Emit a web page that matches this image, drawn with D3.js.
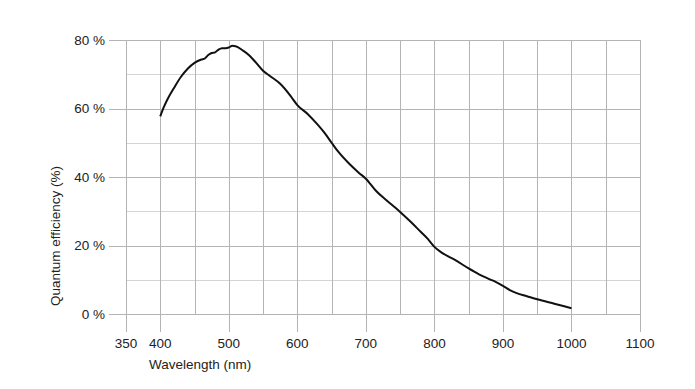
<!DOCTYPE html>
<html>
<head>
<meta charset="utf-8">
<script src="https://cdn.jsdelivr.net/npm/d3@7"></script>
<style>
  html, body { margin: 0; padding: 0; background: #fff; }
  svg { display: block; }
  text { font-family: "Liberation Sans", Arial, sans-serif; fill: #222; }
</style>
</head>
<body>
<svg id="chart" width="695" height="389"></svg>
<script>
// Data
const wavelength = [400,405,410,420,430,440,450,460,465,470,475,480,485,490,495,500,505,510,520,530,540,550,560,575,590,600,615,630,640,650,660,675,690,700,715,730,750,765,780,790,800,810,830,850,865,880,890,900,910,920,935,950,975,1000];
const efficiency = [57.7,60.3,62.5,66.0,69.2,71.6,73.3,74.3,74.6,75.6,76.2,76.4,77.2,77.6,77.6,77.8,78.3,78.2,77.0,75.5,73.3,71.0,69.5,67.2,63.7,61.0,58.4,55.2,52.8,50.0,47.3,44.0,41.2,39.5,35.9,33.2,29.8,27.0,24.0,22.0,19.6,18.0,15.8,13.3,11.6,10.2,9.3,8.2,7.0,6.1,5.2,4.3,3.0,1.7];
const xTickLabels = [350,400,500,600,700,800,900,1000,1100];
const xGrid = [350,400,450,500,550,600,650,700,750,800,850,900,950,1000,1050,1100];
const yTickLabels = [0,20,40,60,80];
const yGrid = [0,10,20,30,40,50,60,70,80];
const xTitle = "Wavelength (nm)";
const yTitle = "Quantum efficiency (%)";

const svg = d3.select("#chart");
const L = 126, R = 640, T = 40, B = 314;
const x = d3.scaleLinear().domain([350, 1100]).range([L, R]);
const y = d3.scaleLinear().domain([0, 80]).range([B, T]);

const g = svg.append("g");

// horizontal gridlines
g.selectAll("line.hg").data(yGrid).enter().append("line")
  .attr("x1", d => yTickLabels.includes(d) ? L - 17 : L)
  .attr("x2", R)
  .attr("y1", d => Math.round(y(d)) + 0.5)
  .attr("y2", d => Math.round(y(d)) + 0.5)
  .attr("stroke", d => yTickLabels.includes(d) ? "#b4b4b4" : "#d4d4d4")
  .attr("stroke-width", 1);

// vertical gridlines
g.selectAll("line.vg").data(xGrid).enter().append("line")
  .attr("x1", d => Math.round(x(d)) + 0.5)
  .attr("x2", d => Math.round(x(d)) + 0.5)
  .attr("y1", T)
  .attr("y2", d => xTickLabels.includes(d) ? B + 18 : B)
  .attr("stroke", "#b4b4b4")
  .attr("stroke-width", 1);

// y labels
g.selectAll("text.yl").data(yTickLabels).enter().append("text")
  .attr("x", 105)
  .attr("y", d => y(d))
  .attr("dy", "0.35em")
  .attr("text-anchor", "end")
  .attr("font-size", 13.5)
  .text(d => d + " %");

// x labels
g.selectAll("text.xl").data(xTickLabels).enter().append("text")
  .attr("x", d => x(d))
  .attr("y", 348)
  .attr("text-anchor", "middle")
  .attr("font-size", 13.5)
  .text(d => d);

// axis titles
svg.append("text")
  .attr("x", 149).attr("y", 369)
  .attr("font-size", 13.5)
  .text(xTitle);

svg.append("text")
  .attr("transform", "translate(60,236) rotate(-90)")
  .attr("text-anchor", "middle")
  .attr("font-size", 13.5)
  .text(yTitle);

// curve
const pts = wavelength.map((w, i) => [w, efficiency[i]]);
const line = d3.line().x(d => x(d[0])).y(d => y(d[1])).curve(d3.curveMonotoneX);
svg.append("path")
  .attr("d", line(pts))
  .attr("fill", "none")
  .attr("stroke", "#111")
  .attr("stroke-width", 2)
  .attr("stroke-linejoin", "round");
</script>
</body>
</html>
